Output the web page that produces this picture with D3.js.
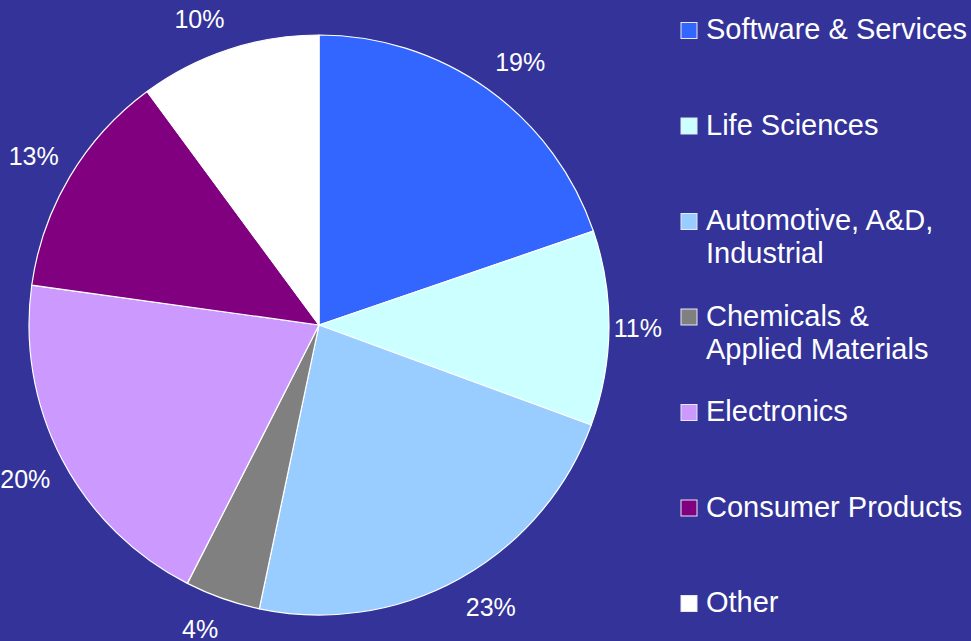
<!DOCTYPE html>
<html>
<head>
<meta charset="utf-8">
<script src="https://cdn.jsdelivr.net/npm/d3@7"></script>
<style>
  html, body { margin: 0; padding: 0; background: #333399; }
  svg { display: block; }
  text { font-family: "Liberation Sans", Arial, sans-serif; fill: #ffffff; }
</style>
</head>
<body>
<svg id="chart" width="971" height="641"></svg>
<script>
// slice order is clockwise from 12 o'clock
const categories = [
    ["Software & Services"],
    ["Life Sciences"],
    ["Automotive, A&D,", "Industrial"],
    ["Chemicals &", "Applied Materials"],
    ["Electronics"],
    ["Consumer Products"],
    ["Other"]
];
const shares = [19.75, 10.85, 22.7, 4.2, 19.7, 12.7, 10.1];
const pctLabels = ["19%", "11%", "23%", "4%", "20%", "13%", "10%"];
const colors = ["#3366FF", "#CCFFFF", "#99CCFF", "#808080", "#CC99FF", "#800080", "#FFFFFF"];

const width = 971, height = 641;
const cx = 319, cy = 325, radius = 290;
const labelFont = 25, legendFont = 29;

const svg = d3.select("#chart");

svg.append("rect")
    .attr("width", width)
    .attr("height", height)
    .attr("fill", "#333399");

const data = shares.map((v, i) => ({ name: categories[i], value: v, label: pctLabels[i], color: colors[i] }));

const pie = d3.pie()
    .sort(null)
    .value(d => d.value);

const arc = d3.arc()
    .innerRadius(0)
    .outerRadius(radius);

const rimArc = d3.arc()
    .innerRadius(radius)
    .outerRadius(radius);

const arcs = pie(data);

const g = svg.append("g")
    .attr("transform", `translate(${cx},${cy})`);

g.selectAll("path.slice")
    .data(arcs)
    .join("path")
    .attr("class", "slice")
    .attr("d", arc)
    .attr("fill", d => d.data.color)
    .attr("stroke", "#ffffff")
    .attr("stroke-width", 1.2)
    .attr("stroke-linejoin", "round");

// percentage labels: text box set just off the rim at the slice middle,
// then kept inside the plot area
const plotRight = 662 - cx, plotBottom = height - cy;
const sgn = v => Math.abs(v) < 0.1 ? 0 : Math.sign(v);

g.selectAll("text.pct")
    .data(arcs)
    .join("text")
    .attr("class", "pct")
    .attr("text-anchor", "middle")
    .attr("dy", "0.36em")
    .style("font-size", labelFont + "px")
    .text(d => d.data.label)
    .each(function(d) {
        const mid = (d.startAngle + d.endAngle) / 2;
        const s = Math.sin(mid), c = Math.cos(mid);
        const halfW = this.getBBox().width / 2, halfH = labelFont * 0.38;
        let [x, y] = rimArc.centroid(d);
        x += s * 13 + sgn(s) * halfW;
        y -= c * 22 + sgn(c) * halfH;
        if (x + halfW > plotRight) x = plotRight - halfW;
        if (y + halfH > plotBottom) y = plotBottom - halfH;
        d3.select(this).attr("x", x).attr("y", y);
    });

// legend
const legendX = 681, legendTop = 39, legendStep = 95.5, lineStep = 33, keySize = 16;

const legend = svg.append("g")
    .selectAll("g")
    .data(data)
    .join("g")
    .attr("transform", (d, i) => `translate(${legendX},${legendTop + i * legendStep})`);

legend.append("rect")
    .attr("x", 0)
    .attr("y", -keySize - 0.5)
    .attr("width", keySize)
    .attr("height", keySize)
    .attr("fill", d => d.color)
    .attr("stroke", "#e8e8f4")
    .attr("stroke-width", 1);

legend.append("text")
    .style("font-size", legendFont + "px")
    .selectAll("tspan")
    .data(d => d.name)
    .join("tspan")
    .attr("x", 25)
    .attr("dy", (d, i) => i === 0 ? 0 : lineStep)
    .text(d => d);
</script>
</body>
</html>
